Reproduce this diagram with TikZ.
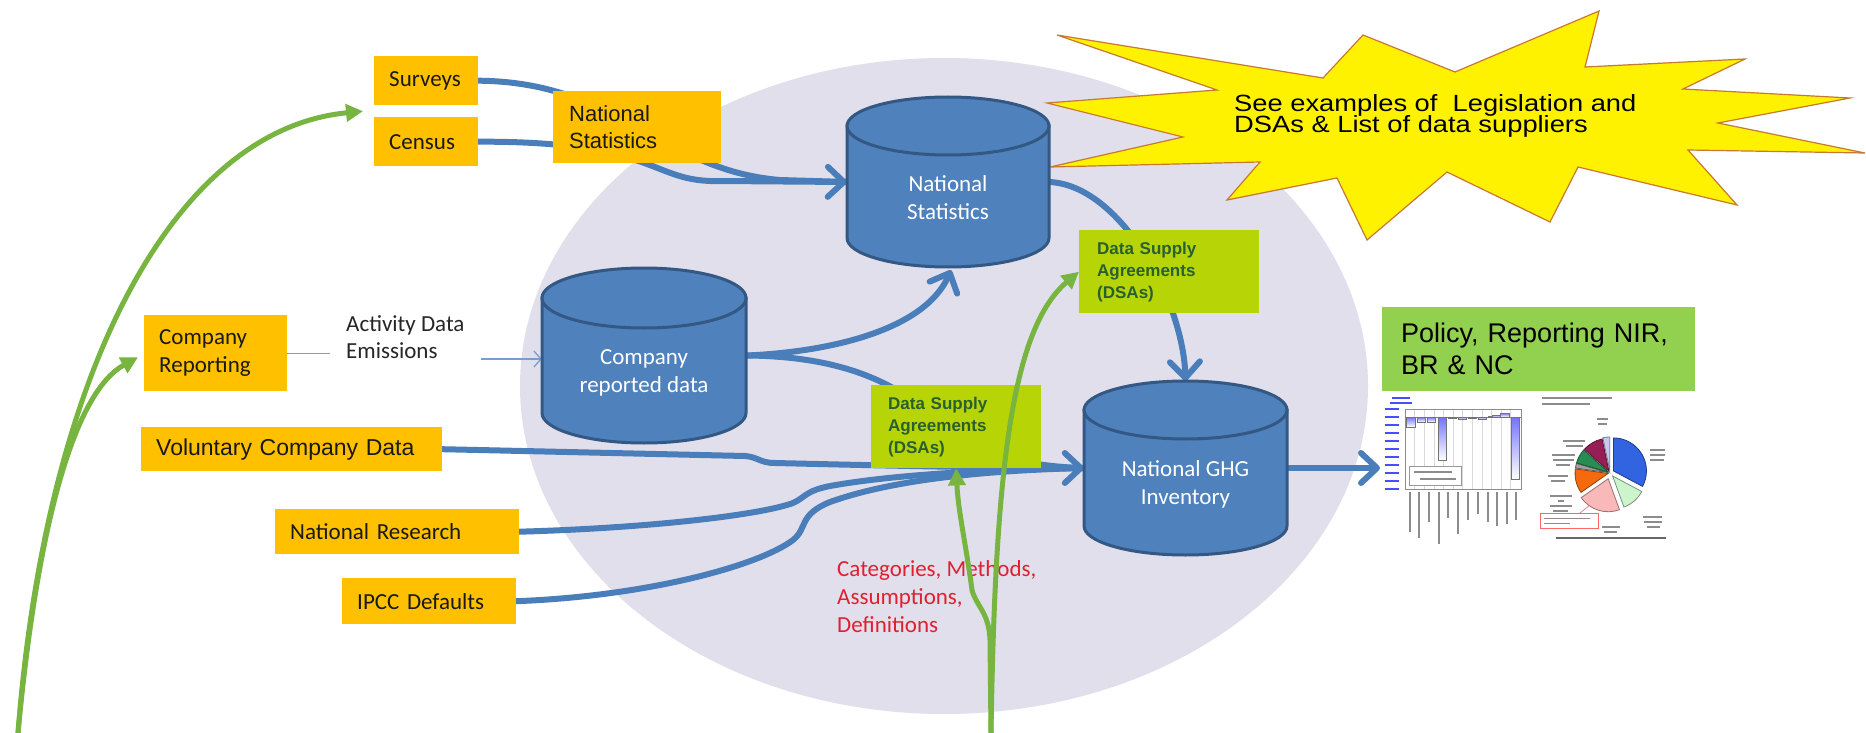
\documentclass[tikz,border=0pt]{standalone}
\usepackage{graphicx}
\usepackage{fontspec}
\setmainfont{Liberation Sans}
\newfontfamily\calib{Carlito}
\newfontfamily\arialf{Liberation Sans}
\usetikzlibrary{arrows.meta,calc}

\definecolor{ogold}{RGB}{255,192,0}
\definecolor{lav}{RGB}{225,223,236}
\definecolor{cylblue}{RGB}{79,129,189}
\definecolor{cyledge}{RGB}{52,88,132}
\definecolor{flowblue}{RGB}{74,126,187}
\definecolor{lime}{RGB}{183,212,6}
\definecolor{dsatext}{RGB}{40,96,48}
\definecolor{polgreen}{RGB}{146,208,80}
\definecolor{garrow}{RGB}{119,181,64}
\definecolor{redtxt}{RGB}{224,32,48}
\definecolor{staredge}{RGB}{200,120,50}
\definecolor{pieEnergy}{RGB}{50,100,225}
\definecolor{pieManuf}{RGB}{205,245,205}
\definecolor{pieTrans}{RGB}{250,185,185}
\definecolor{pieResid}{RGB}{245,105,15}
\definecolor{pieFug}{RGB}{160,160,160}
\definecolor{pieInd}{RGB}{40,140,85}
\definecolor{pieAgri}{RGB}{150,30,85}
\definecolor{pieWaste}{RGB}{200,200,240}

\pgfdeclarelayer{bg}
\pgfdeclarelayer{flows}
\pgfdeclarelayer{front}
\pgfsetlayers{bg,flows,main,front}

\tikzset{
  obox/.style={fill=ogold, anchor=north west, inner ysep=0pt, align=left, text=black!90},
  cal/.style={font=\calib\fontsize{23}{28}\selectfont},
  ari/.style={font=\arialf\fontsize{23}{28}\selectfont},
  dsabox/.style={fill=lime, anchor=north west, inner ysep=0pt, align=left, text=dsatext,
    font=\arialf\bfseries\fontsize{17}{22}\selectfont},
  cylbody/.style={fill=cylblue, draw=cyledge, line width=3pt},
  cylnode/.style={inner sep=0pt, draw=none},
  cyltext/.style={inner sep=0pt, align=center, text=white, font=\calib\fontsize{23}{28.5}\selectfont},
  flow/.style={draw=flowblue, line width=6pt, line cap=round},
  flowarrow/.style={flow, -{Straight Barb[length=16pt,width=30pt,round]}},
  thinflow/.style={draw=flowblue!75, line width=1.3pt},
  garr/.style={draw=garrow, line width=5pt, -{Triangle[length=17pt,width=17pt]}},
  tiny/.style={draw=black!45, line width=1.2pt},
}

% database cylinder: centre x, top y, bottom y, half width, y radius of the caps
\newcommand\dbcyl[5]{%
  \filldraw[cylbody] (#1-#4,#2+#5) -- (#1-#4,#3-#5)
    arc[start angle=180,end angle=0,x radius=#4,y radius=#5] -- (#1+#4,#2+#5) -- cycle;
  \filldraw[cylbody] (#1,#2+#5) ellipse[x radius=#4,y radius=#5];
}
% pie slice: centre, start, end, offset, colour
\newcommand\pieslice[5]{%
  \filldraw[fill=#5, draw=#5!60!black, line width=0.8pt]
    ($(#1)+({(#2+#3)/2}:#4)$) -- ++(#2:33) arc[start angle=#2,end angle=#3,radius=33] -- cycle;
}

\begin{document}
\lineskiplimit=-50pt
\lineskip=0pt
\begin{tikzpicture}[x=1pt,y=-1pt]
\useasboundingbox (0,0) rectangle (1866,733);

\begin{pgfonlayer}{bg}
  \fill[white] (0,0) rectangle (1866,733);
  \fill[lav] (944,386) ellipse[x radius=424, y radius=328];
  \filldraw[fill=yellow, draw=staredge, line width=1.2pt]
    (1057,35) -- (1323,78) -- (1363,35) -- (1455,72) -- (1599,11) -- (1585,67)
    -- (1745,59) -- (1683,89) -- (1850,98) -- (1718,123) -- (1865,153) -- (1688,150)
    -- (1737,205) -- (1578,167) -- (1550,222) -- (1447,172) -- (1367,240) -- (1337,178)
    -- (1227,200) -- (1260,162) -- (1050,167) -- (1183,137) -- (1047,103) -- (1217,90) -- cycle;
\end{pgfonlayer}

% callout text, set squat and tight as in a stretched text box
\node[inner sep=0pt, anchor=west, font=\arialf\fontsize{27.3}{24}\selectfont]
  (startext) at (1234,116) {\scalebox{1}[0.86]{\vbox{\hbox{See examples of\ \ Legislation and}\hbox{DSAs \& List of data suppliers}}}};

% databases
\dbcyl{948}{97}{267}{101}{29}
\dbcyl{644}{268}{443}{102}{30}
\dbcyl{1185.5}{381}{555}{101.5}{29}
\node[cylnode, minimum width=202pt, minimum height=170pt] (cNS) at (948,182) {};
\node[cylnode, minimum width=204pt, minimum height=175pt] (cCR) at (644,355.5) {};
\node[cylnode, minimum width=203pt, minimum height=174pt] (cGHG) at (1185.5,468) {};
\node[cyltext] (cNSt) at (948,197.5) {National\\Statistics};
\node[cyltext] (cCRt) at (644,373) {Company\\reported data};
\node[cyltext] (cGHGt) at (1185.5,484.5) {National GHG\\Inventory};

% source boxes
\node[obox, cal, text width=74pt, inner xsep=15pt, minimum height=49pt] (surveys) at (374,56) {Surveys};
\node[obox, cal, text width=74pt, inner xsep=15pt, minimum height=49pt] (census) at (374,117) {Census};
\node[obox, font=\arialf\fontsize{22}{27}\selectfont, text width=136pt, inner xsep=16pt, minimum height=72pt] (nsbox) at (553,91) {National\\Statistics};
\node[obox, cal, text width=113pt, inner xsep=15pt, minimum height=76pt] (comprep) at (144,315) {Company\\Reporting};
\node[obox, ari, text width=271pt, inner xsep=15pt, minimum height=44pt] (volunt) at (141,427) {Voluntary Company Data};
\node[obox, cal, text width=214pt, inner xsep=15pt, minimum height=45pt] (natres) at (275,509) {National Research};
\node[obox, cal, text width=144pt, inner xsep=15pt, minimum height=46pt] (ipcc) at (342,578) {IPCC Defaults};
\node[inner xsep=16pt, inner ysep=0pt, anchor=west, align=left, text=black!85,
  font=\calib\fontsize{23}{27}\selectfont] (actdata) at (330,337) {Activity Data\\Emissions};

% agreements
\node[dsabox, text width=144pt, inner xsep=18pt, minimum height=83pt] (dsa1) at (1079,230) {Data Supply\\Agreements\\(DSAs)};
\node[dsabox, text width=136pt, inner xsep=17pt, minimum height=83pt] (dsa2) at (871,385) {Data Supply\\Agreements\\(DSAs)};

\node[inner sep=0pt, anchor=west, align=left, text=redtxt, font=\calib\fontsize{23}{28}\selectfont]
  (cats) at (837,597) {Categories, Methods,\\Assumptions,\\Definitions};

% outputs
\node[fill=polgreen, anchor=north west, inner ysep=0pt, inner xsep=19pt, text width=275pt,
  minimum height=84pt, align=left, font=\arialf\fontsize{27}{32}\selectfont] (policy) at (1382,307)
  {Policy, Reporting NIR,\\BR \& NC};
\node[inner sep=0pt, minimum width=290pt, minimum height=150pt, anchor=north west] (charts) at (1380,395) {};

% bar chart
\begin{scope}
  \foreach \yy in {409,417,...,489} { \draw[blue!70, line width=1.3pt] (1385,\yy) -- (1399,\yy); }
  \draw[blue!70, line width=1.2pt] (1392,398) -- (1410,398) (1390,403) -- (1412,403);
  \foreach \xx in {1414.7,1424.3,...,1512} { \draw[black!15, line width=0.5pt] (\xx,409) -- (\xx,489); }
  \draw[black!45, line width=0.8pt] (1405,409) rectangle (1521,489);
  \draw[black!50, line width=0.6pt] (1405,417) -- (1521,417);
  \foreach \xa/\xb/\ya/\yb in {1406/1415/417/427, 1417/1425/417/422, 1427/1435/417/422,
      1438/1446/417/460, 1448/1456/417/418.5, 1458/1466/417/419, 1468/1476/417/418,
      1478/1486/417/419, 1488/1496/416/417, 1492/1500/415/417, 1500/1509/413/417, 1511/1519/417/479}
    { \shade[top color=blue!55, bottom color=white, draw=black!55, line width=0.6pt] (\xa,\ya) rectangle (\xb,\yb); }
  \filldraw[fill=white, draw=black!40, line width=0.6pt] (1409,466) rectangle (1461,485);
  \draw[tiny] (1414,472) -- (1452,472) (1420,479) -- (1456,479);
  \foreach \xx/\ll in {1410/40,1419/46,1429/30,1439/52,1448/26,1458/42,1468/28,1478/22,1488/30,1497/34,1507/32,1516/28}
    { \draw[black!45, line width=1.1pt] (\xx,492) -- (\xx,492+\ll); }
\end{scope}

% pie chart
\coordinate (pc) at (1610,473);
\pieslice{pc}{-90}{28}{4}{pieEnergy}
\pieslice{pc}{28}{70}{4}{pieManuf}
\pieslice{pc}{70}{145}{6}{pieTrans}
\pieslice{pc}{145}{188}{2}{pieResid}
\pieslice{pc}{188}{196}{2}{pieFug}
\pieslice{pc}{196}{222}{2}{pieInd}
\pieslice{pc}{222}{258}{2}{pieAgri}
\pieslice{pc}{258}{270}{3}{pieWaste}
\draw[tiny] (1542,398) -- (1612,398) (1542,404) -- (1590,404);
\draw[tiny] (1597,419) -- (1608,419) (1598,424) -- (1607,424);
\draw[tiny] (1563,441) -- (1585,441) (1566,446) -- (1583,446);
\draw[tiny] (1552,455) -- (1575,455) (1553,460) -- (1574,460) (1556,465) -- (1570,465);
\draw[tiny] (1548,476) -- (1568,476) (1551,481) -- (1565,481);
\draw[tiny] (1550,496) -- (1572,496) (1558,501) -- (1564,501) (1550,506) -- (1572,506) (1553,511) -- (1568,511);
\draw[tiny] (1650,450) -- (1665,450) (1650,455) -- (1665,455) (1650,460) -- (1664,460);
\draw[tiny] (1643,517) -- (1662,517) (1644,522) -- (1662,522) (1647,527) -- (1660,527);
\draw[tiny] (1602,527) -- (1620,527) (1604,532) -- (1617,532);
\draw[red!60, line width=0.8pt] (1540,513) rectangle (1598,528);
\draw[red!60, line width=0.6pt] (1580,513) -- (1590,505);
\draw[tiny, line width=0.9pt] (1544,518) -- (1590,518) (1544,523) -- (1570,523);
\draw[black!60, line width=2.5pt] (1556,538) -- (1666,538);

% data flows
\begin{pgfonlayer}{flows}
  \draw[flow] (surveys.east) .. controls (620,82) and (660,170) .. (780,180) -- (cNS.west);
  \draw[flowarrow] (census.east) .. controls (660,141) and (650,183) .. (720,181) -- (cNS.west);
  \draw[flowarrow] (cCR.east) .. controls (830,352) and (925,330) .. ($(cNS.south)+(3,3)$);
  \draw[flow] (cCR.east) .. controls (820,356) and (880,372) .. (925,410) .. controls (955,440) and (1000,466) .. (cGHG.west);
  \draw[flow] (natres.east) .. controls (650,528) and (760,515) .. (793,503) .. controls (806,497) and (805,491) .. (830,486) .. controls (880,477) and (960,470) .. (cGHG.west);
  \draw[flow] (ipcc.east) .. controls (650,596) and (760,565) .. (793,540) .. controls (808,528) and (798,515) .. (830,502) .. controls (880,484) and (960,471) .. (cGHG.west);
  \draw[flowarrow] (volunt.east) -- (745,456) .. controls (758,457) and (760,463) .. (775,463) .. controls (900,466) and (1000,468) .. (cGHG.west);
  \draw[flowarrow] (cNS.east) .. controls (1120,185) and (1183,300) .. (cGHG.north);
  \draw[flowarrow] (cGHG.east) -- (cGHG.east -| charts.west);
  \draw[thinflow] (comprep.east) -- (comprep.east -| actdata.west);
  \draw[thinflow, -{Straight Barb[length=7pt,width=16pt]}] (actdata.east |- 0,359) -- (cCR.west |- 0,359);
\end{pgfonlayer}

% feedback arrows
\begin{pgfonlayer}{front}
  \coordinate (gl) at (18,733);
  \coordinate (gm) at (991,733);
  \draw[garr] (gl) .. controls (45,380) and (170,130) .. ($(surveys.south west)!0.5!(census.north west)+(-11,0)$);
  \draw[garr] (gl) .. controls (38,520) and (75,392) .. ($(comprep.west)+(-6,4)$);
  \draw[garr] (gm) .. controls (995,480) and (1010,330) .. (dsa1.west);
  \draw[garr] (gm) -- (990,640) .. controls (989,612) and (976,606) .. (972,590) .. controls (966,545) and (958,510) .. (dsa2.south);
\end{pgfonlayer}
\end{tikzpicture}
\end{document}
